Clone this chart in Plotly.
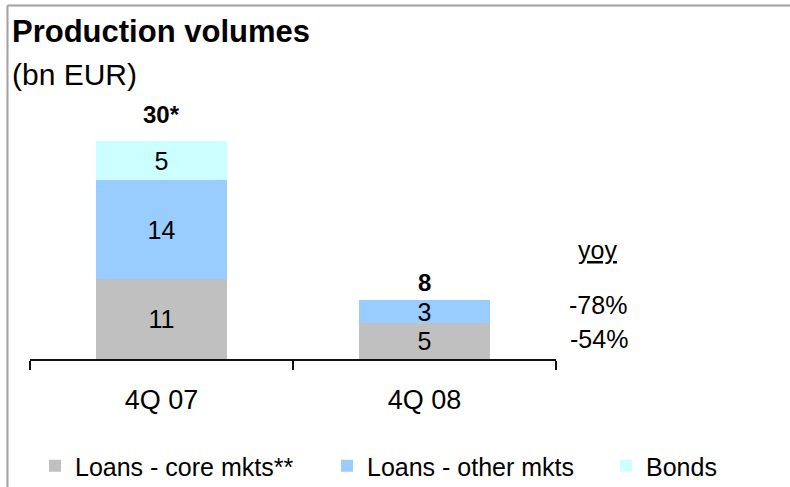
import plotly.graph_objects as go

categories = ["4Q 07", "4Q 08"]
loans_core = [11.0, 4.95]
loans_other = [13.6, 3.15]
bonds = [5.4, 0.0]
total_labels = ["30*", "8"]
totals = [30.0, 8.1]
yoy_labels = ["-78%", "-54%"]
series_names = ["Loans - core mkts**", "Loans - other mkts", "Bonds"]
colors = ["#C0C0C0", "#99CCFF", "#CCFFFF"]

W, H = 790, 487
L, R, T, B = 30, 234, 101, 128
pw, ph = W - L - R, H - T - B
FONT = "Liberation Sans, Arial"

def px_x(p):
    return (p - L) / pw

def px_y(p):
    return (H - B - p) / ph

fig = go.Figure()
legend_ids = ["legend", "legend2", "legend3"]
for name, vals, col, lg in zip(series_names, [loans_core, loans_other, bonds], colors, legend_ids):
    fig.add_trace(go.Bar(
        x=categories, y=vals, name=name, marker=dict(color=col, line=dict(width=0)),
        text=[("%.0f" % v) if v > 0 else "" for v in vals],
        textposition="inside", insidetextanchor="middle", textangle=0,
        constraintext="none", cliponaxis=False,
        textfont=dict(family=FONT, size=25, color="black"),
        hoverinfo="skip", legend=lg,
    ))

total_shift = [11, 2]
for c, t, lab, ys in zip(categories, totals, total_labels, total_shift):
    fig.add_annotation(x=c, y=t, text="<b>%s</b>" % lab, showarrow=False,
                       xanchor="center", yanchor="bottom", yshift=ys,
                       font=dict(family=FONT, size=24, color="black"))

def txt(xp, yp, text, size=25, xanchor="center"):
    fig.add_annotation(xref="paper", yref="paper", x=px_x(xp), y=px_y(yp), text=text,
                       xanchor=xanchor, yanchor="middle", showarrow=False,
                       font=dict(family=FONT, size=size, color="black"))

txt(597, 250, "<u>yoy</u>")
txt(598, 305, yoy_labels[0])
txt(599, 339, yoy_labels[1])
txt(10, 32, "<b>Production volumes</b>", size=31, xanchor="left")
txt(10, 74, "(bn EUR)", size=30, xanchor="left")

fig.add_shape(type="line", xref="paper", yref="paper", x0=px_x(7.5), x1=px_x(790),
              y0=px_y(5.5), y1=px_y(5.5), line=dict(color="#A0A0A0", width=2))
fig.add_shape(type="line", xref="paper", yref="paper", x0=px_x(7.5), x1=px_x(7.5),
              y0=px_y(5.5), y1=px_y(490), line=dict(color="#A0A0A0", width=2))

legend_x_px = [35, 327, 606]
leg_common = dict(orientation="h", xref="container", yref="container", xanchor="left",
                  yanchor="middle", y=1 - 466 / H, bgcolor="rgba(0,0,0,0)",
                  font=dict(family=FONT, size=25, color="black"), itemclick=False)
fig.update_layout(
    width=W, height=H, margin=dict(l=L, r=R, t=T, b=B, autoexpand=False),
    barmode="stack", bargap=0.5,
    plot_bgcolor="white", paper_bgcolor="white",
    showlegend=True,
    legend=dict(x=legend_x_px[0] / W, **leg_common),
    legend2=dict(x=legend_x_px[1] / W, **leg_common),
    legend3=dict(x=legend_x_px[2] / W, **leg_common),
    xaxis=dict(range=[-0.5, 1.5], showline=True, linecolor="#101010", linewidth=1.5,
               ticks="outside", ticklen=9, tickcolor="#101010", tickwidth=1.5,
               tickson="boundaries", ticklabelstandoff=16,
               tickfont=dict(family=FONT, size=27, color="black"),
               showgrid=False, zeroline=False, fixedrange=True),
    yaxis=dict(range=[0, 35.5], visible=False, showgrid=False, zeroline=False, fixedrange=True),
)

fig.write_html("out.html", config={"displayModeBar": False},
               post_script="document.body.style.margin='0';document.body.style.overflow='hidden';")
